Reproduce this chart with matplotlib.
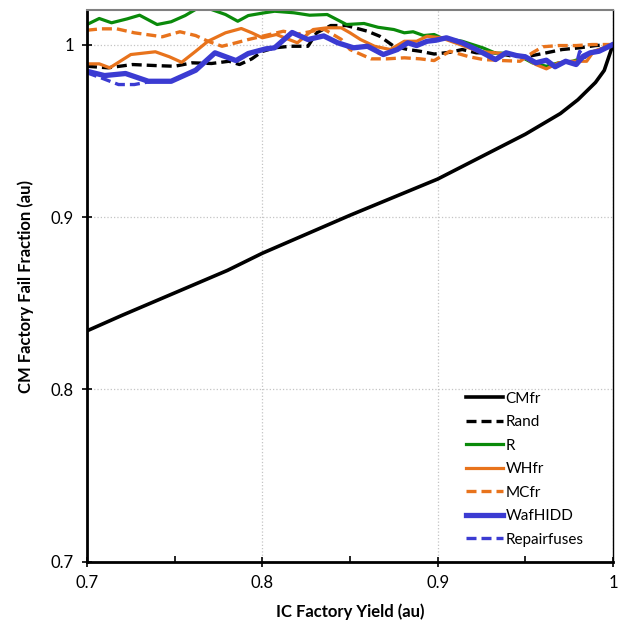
import numpy as np
import matplotlib
matplotlib.use('Agg')
import matplotlib.pyplot as plt
from matplotlib.ticker import MultipleLocator

plt.rcParams['font.family'] = ['Lato', 'DejaVu Sans']

# CM fail fraction vs IC factory yield, per screening method
cmfr_x = [0.700, 0.720, 0.750, 0.780, 0.800, 0.850, 0.900, 0.950, 0.970, 0.980, 0.990, 0.995, 1.000]
cmfr_y = [0.834, 0.843, 0.856, 0.869, 0.879, 0.901, 0.922, 0.948, 0.960, 0.968, 0.978, 0.985, 1.000]

rand_x = [0.700, 0.712, 0.726, 0.739, 0.750, 0.760, 0.771, 0.781, 0.787, 0.794, 0.800, 0.807,
          0.816, 0.826, 0.831, 0.839, 0.848, 0.860, 0.867, 0.875, 0.883, 0.890, 0.898, 0.907,
          0.914, 0.922, 0.933, 0.943, 0.952, 0.962, 0.971, 0.981, 0.990, 1.000]
rand_y = [0.9874, 0.9865, 0.9884, 0.9878, 0.9874, 0.9894, 0.9890, 0.9903, 0.9884, 0.9917, 0.9960, 0.9981,
          0.9990, 0.9990, 1.0068, 1.0110, 1.0110, 1.0077, 1.0048, 0.9990, 0.9971, 0.9961, 0.9945, 0.9955,
          0.9971, 0.9952, 0.9952, 0.9932, 0.9932, 0.9952, 0.9971, 0.9981, 0.9994, 1.0000]

r_x = [0.700, 0.707, 0.714, 0.723, 0.730, 0.740, 0.748, 0.756, 0.763, 0.767, 0.771, 0.779, 0.786,
       0.792, 0.800, 0.807, 0.818, 0.827, 0.837, 0.848, 0.858, 0.866, 0.875, 0.881, 0.886, 0.892,
       0.898, 0.902, 0.914, 0.926, 0.933, 0.939, 0.947, 0.954, 0.962, 0.969, 0.977, 0.983, 0.990, 1.000]
r_y = [1.0116, 1.0151, 1.0126, 1.0149, 1.0170, 1.0116, 1.0132, 1.0168, 1.0210, 1.0225, 1.0203, 1.0174, 1.0135,
       1.0168, 1.0182, 1.0193, 1.0184, 1.0170, 1.0174, 1.0116, 1.0122, 1.0100, 1.0087, 1.0068, 1.0074, 1.0052,
       1.0058, 1.0039, 1.0019, 0.9980, 0.9950, 0.9950, 0.9932, 0.9894, 0.9874, 0.9894, 0.9903, 0.9923, 0.9961, 1.0000]

whfr_x = [0.700, 0.707, 0.713, 0.725, 0.739, 0.747, 0.754, 0.762, 0.769, 0.779, 0.788, 0.794,
          0.800, 0.808, 0.820, 0.829, 0.837, 0.845, 0.850, 0.856, 0.864, 0.873, 0.881, 0.888,
          0.894, 0.902, 0.910, 0.923, 0.933, 0.942, 0.950, 0.956, 0.962, 0.969, 0.977, 0.985,
          0.989, 1.000]
whfr_y = [0.9888, 0.9888, 0.9865, 0.9942, 0.9958, 0.9929, 0.9897, 0.9961, 1.0019, 1.0068, 1.0093, 1.0068,
          1.0039, 1.0058, 1.0010, 1.0087, 1.0097, 1.0097, 1.0068, 1.0029, 0.9990, 0.9971, 1.0019, 1.0019,
          1.0048, 1.0039, 1.0010, 0.9961, 0.9952, 0.9942, 0.9923, 0.9884, 0.9859, 0.9894, 0.9903, 0.9903,
          0.9961, 1.0000]

mcfr_x = [0.700, 0.708, 0.717, 0.727, 0.743, 0.753, 0.762, 0.769, 0.777, 0.785, 0.792, 0.800,
          0.812, 0.820, 0.835, 0.845, 0.850, 0.862, 0.871, 0.881, 0.890, 0.898, 0.907, 0.918,
          0.926, 0.937, 0.947, 0.954, 0.960, 0.969, 0.979, 0.988, 1.000]
mcfr_y = [1.0083, 1.0091, 1.0091, 1.0068, 1.0045, 1.0074, 1.0052, 1.0019, 0.9990, 1.0010, 1.0029, 1.0048,
          1.0077, 1.0060, 1.0090, 1.0030, 0.9971, 0.9917, 0.9917, 0.9923, 0.9917, 0.9907, 0.9961, 0.9929,
          0.9913, 0.9907, 0.9903, 0.9952, 0.9987, 0.9994, 0.9994, 1.0000, 1.0000]

waf_x = [0.700, 0.710, 0.722, 0.735, 0.748, 0.762, 0.773, 0.785, 0.792, 0.802, 0.807, 0.817,
         0.826, 0.835, 0.843, 0.852, 0.860, 0.869, 0.877, 0.883, 0.888, 0.894, 0.899, 0.905,
         0.914, 0.924, 0.933, 0.939, 0.945, 0.950, 0.956, 0.962, 0.967, 0.973, 0.979, 0.983,
         0.987, 0.992, 1.000]
waf_y = [0.9845, 0.9820, 0.9832, 0.9787, 0.9787, 0.9851, 0.9952, 0.9907, 0.9948, 0.9975, 0.9981, 1.0070,
         1.0029, 1.0050, 1.0010, 0.9981, 0.9990, 0.9942, 0.9971, 1.0010, 0.9994, 1.0019, 1.0025, 1.0039,
         1.0010, 0.9961, 0.9913, 0.9952, 0.9936, 0.9929, 0.9894, 0.9909, 0.9871, 0.9903, 0.9884, 0.9932,
         0.9952, 0.9961, 1.0000]

rep_x = [0.700, 0.708, 0.718, 0.727, 0.737, 0.748, 0.762, 0.773, 0.785, 0.792, 0.802, 0.807,
         0.817, 0.826, 0.835, 0.843, 0.852, 0.860, 0.869, 0.877, 0.883, 0.888, 0.894, 0.899,
         0.905, 0.914, 0.924, 0.933, 0.939, 0.945, 0.950, 0.956, 0.962, 0.967, 0.973, 0.979,
         0.981, 0.984, 0.987, 0.992, 1.000]
rep_y = [0.9836, 0.9807, 0.9768, 0.9768, 0.9787, 0.9787, 0.9851, 0.9952, 0.9907, 0.9948, 0.9975, 0.9981,
         1.0070, 1.0029, 1.0050, 1.0010, 0.9981, 0.9990, 0.9942, 0.9971, 1.0010, 0.9994, 1.0019, 1.0025,
         1.0039, 1.0010, 0.9961, 0.9913, 0.9952, 0.9936, 0.9929, 0.9894, 0.9909, 0.9871, 0.9903, 0.9884,
         0.9960, 0.9925, 0.9952, 0.9961, 1.0000]

GREEN = '#0A8A0A'
ORANGE = '#E8731C'
BLUE = '#3B3BD2'
DASH = (0, (3.0, 1.5))

fig = plt.figure(figsize=(6.2, 6.27), dpi=100)
ax = fig.add_axes([0.1403, 0.1037, 0.8484, 0.8803])

ax.plot(cmfr_x, cmfr_y, color='black', lw=2.6, label='CMfr')
ax.plot(rand_x, rand_y, color='black', lw=2.4, ls=DASH, label='Rand')
ax.plot(r_x, r_y, color=GREEN, lw=2.3, label='R')
ax.plot(whfr_x, whfr_y, color=ORANGE, lw=2.3, label='WHfr')
ax.plot(mcfr_x, mcfr_y, color=ORANGE, lw=2.4, ls=DASH, label='MCfr')
ax.plot(waf_x, waf_y, color=BLUE, lw=3.8, label='WafHIDD')
ax.plot(rep_x, rep_y, color=BLUE, lw=2.4, ls=DASH, label='Repairfuses')

ax.set_xlim(0.7, 1.0)
ax.set_ylim(0.7, 1.02)
ax.xaxis.set_minor_locator(MultipleLocator(0.05))
ax.set_xticks([0.7, 0.8, 0.9, 1.0])
ax.set_xticklabels(['0.7', '0.8', '0.9', '1'])
ax.set_yticks([0.7, 0.8, 0.9, 1.0])
ax.set_yticklabels(['0.7', '0.8', '0.9', '1'])

ax.tick_params(axis='both', which='major', direction='inout', length=7, width=1.2,
               labelsize=12, pad=6)
ax.tick_params(axis='x', which='minor', direction='in', length=4, width=1.2)

for spine in ('left', 'bottom'):
    ax.spines[spine].set_linewidth(2.0)
ax.spines['right'].set_linewidth(1.0)
ax.spines['top'].set_color('#808080')
ax.spines['top'].set_linewidth(1.5)

ax.grid(True, which='major', color='#C4C4C4', ls=':', lw=0.9)

ax.set_xlabel('IC Factory Yield (au)', fontsize=12, fontweight='bold', labelpad=9)
ax.set_ylabel('CM Factory Fail Fraction (au)', fontsize=12, fontweight='bold', labelpad=12)

leg = ax.legend(loc='lower left', bbox_to_anchor=(0.7205, 0.028), frameon=False, fontsize=11,
                handlelength=2.4, handletextpad=0.2, labelspacing=0.62,
                borderpad=0, borderaxespad=0)

fig.savefig('out.png', dpi=100)
plt.close()
